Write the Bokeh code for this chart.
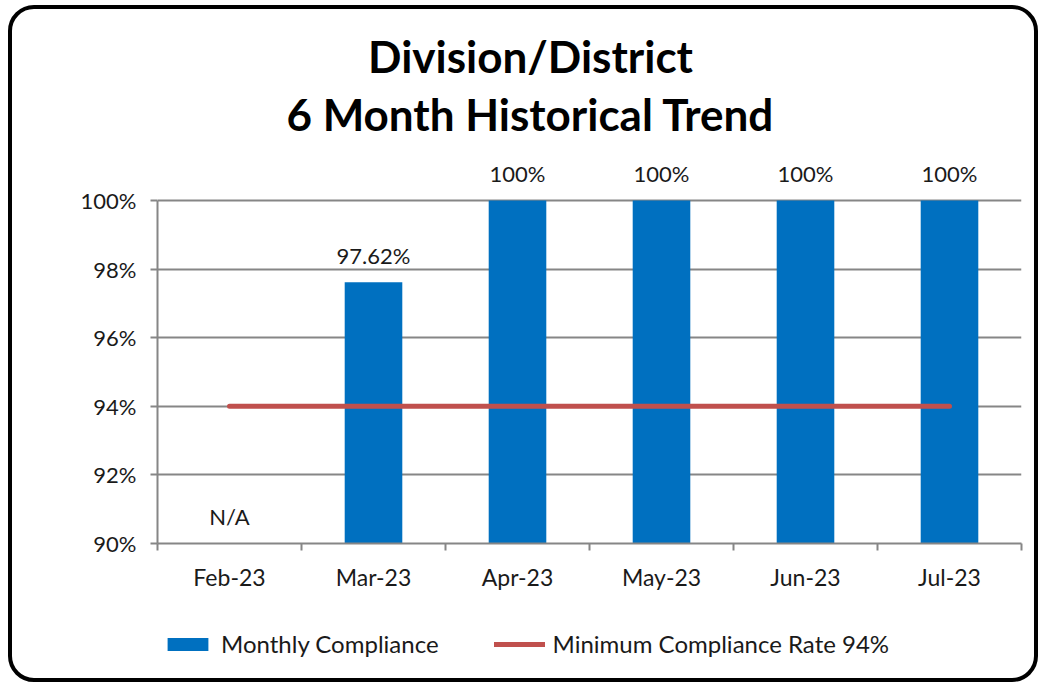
from bokeh.plotting import figure
from bokeh.layouts import column
from bokeh.models import (ColumnDataSource, FixedTicker, LabelSet, Label, Legend,
                          LegendItem, Range1d)
from bokeh.core.properties import value
from bokeh.embed import file_html
from bokeh.resources import INLINE

months = ["Feb-23", "Mar-23", "Apr-23", "May-23", "Jun-23", "Jul-23"]
compliance = [None, 97.62, 100, 100, 100, 100]
value_labels = ["N/A", "97.62%", "100%", "100%", "100%", "100%"]
minimum_rate = [94, 94, 94, 94, 94, 94]
y_ticks = [90, 92, 94, 96, 98, 100]
title_lines = ["Division/District", "6 Month Historical Trend"]
legend_labels = ["Monthly Compliance", "Minimum Compliance Rate 94%"]

FONT = "Lato"
GRAY = "#868686"
TXT = "#1a1a1a"
BLUE = "#0070C0"
RED = "#C0504D"
Y0 = y_ticks[0]
Y_TOP = 105.57  # frame extends up to hold labels and title

xs = [i + 0.5 for i in range(len(months))]
bar_x = [x for x, v in zip(xs, compliance) if v is not None]
bar_top = [v for v in compliance if v is not None]
label_y = [Y0 if v is None else v for v in compliance]

p = figure(frame_width=864, frame_height=534, output_backend="svg", toolbar_location=None,
           x_range=Range1d(0, len(months)), y_range=Range1d(Y0, Y_TOP),
           min_border_left=145, min_border_right=13, min_border_top=0,
           min_border_bottom=60, title=None)
p.outline_line_color = None
p.background_fill_color = None
p.border_fill_color = None

p.vbar(x=bar_x, top=bar_top, bottom=Y0, width=0.4, fill_color=BLUE, line_color=None)
p.line(xs, minimum_rate, line_color=RED, line_width=5, line_cap="round")

src = ColumnDataSource(dict(x=xs, y=label_y, t=value_labels))
p.add_layout(LabelSet(x="x", y="y", text="t", source=src, y_offset=27,
                      text_align="center", text_baseline="middle",
                      text_font=value(FONT), text_font_size="22px", text_color=TXT))

# y axis
ya = p.yaxis[0]
ya.bounds = (Y0, y_ticks[-1])
ya.ticker = FixedTicker(ticks=y_ticks, minor_ticks=[])
ya.major_label_overrides = {t: f"{t}%" for t in y_ticks}
ya.axis_line_color = GRAY
ya.axis_line_width = 2
ya.major_tick_line_color = GRAY
ya.major_tick_line_width = 2
ya.major_tick_in = 0
ya.major_tick_out = 7
ya.major_label_standoff = 14
ya.major_label_text_font = FONT
ya.major_label_text_font_size = "22px"
ya.major_label_text_color = TXT

# x axis
xa = p.xaxis[0]
xa.ticker = FixedTicker(ticks=xs, minor_ticks=list(range(len(months) + 1)))
xa.major_label_overrides = {x: m for x, m in zip(xs, months)}
xa.axis_line_color = GRAY
xa.axis_line_width = 2
xa.major_tick_line_color = None
xa.major_tick_in = 0
xa.major_tick_out = 0
xa.minor_tick_line_color = GRAY
xa.minor_tick_line_width = 2
xa.minor_tick_in = 0
xa.minor_tick_out = 7
xa.major_label_standoff = 12
xa.major_label_text_font = FONT
xa.major_label_text_font_size = "23px"
xa.major_label_text_color = TXT

p.xgrid.grid_line_color = None
p.ygrid.ticker = FixedTicker(ticks=y_ticks)
p.ygrid.grid_line_color = GRAY
p.ygrid.grid_line_width = 2

# title lines
for txt, yy in zip(title_lines, [488, 430]):
    p.add_layout(Label(x=373, y=yy, x_units="screen", y_units="screen", text=txt,
                       text_align="center", text_baseline="middle", text_font=FONT,
                       text_font_style="bold", text_font_size="44px", text_color="black"))

# legend strip: same series as hidden renderers, so only the key is drawn
lf = figure(width=1022, height=75, output_backend="svg", toolbar_location=None,
            x_range=Range1d(0, len(months)), y_range=Range1d(0, 1),
            x_axis_type=None, y_axis_type=None, min_border=0, title=None)
lf.outline_line_color = None
lf.background_fill_color = None
lf.border_fill_color = None
lf.grid.visible = False
lbars = lf.vbar(x=bar_x, top=bar_top, bottom=Y0, width=0.4, fill_color=BLUE,
                line_color=None, visible=False)
lline = lf.line(xs, minimum_rate, line_color=RED, line_width=5, line_cap="round",
                visible=False)
legend = Legend(items=[LegendItem(label=legend_labels[0], renderers=[lbars]),
                       LegendItem(label=legend_labels[1], renderers=[lline])],
                orientation="horizontal", location=(5, 20), glyph_width=51,
                glyph_height=16, label_standoff=8, spacing=55, padding=0, margin=0,
                border_line_color=None, background_fill_alpha=0,
                label_text_font=FONT, label_text_font_size="24px", label_text_color=TXT)
lf.add_layout(legend)

layout = column(p, lf, spacing=0,
                styles={"border": "4px solid black", "border-radius": "26px",
                        "box-sizing": "content-box",
                        "margin-left": "8px", "margin-top": "5px"})

open("out.html", "w").write(file_html(layout, INLINE))
